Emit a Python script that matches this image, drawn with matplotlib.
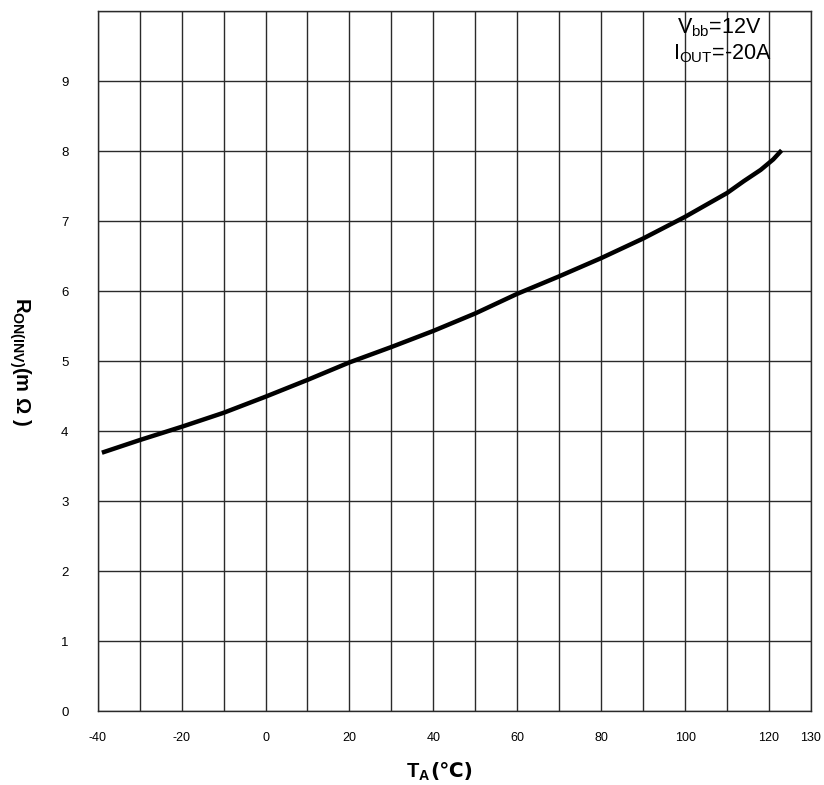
import matplotlib
matplotlib.use("Agg")
import matplotlib.pyplot as plt
import numpy as np

# ── Data ───────────────────────────────────────────────────
temps = [-39, -30, -20, -10, 0, 10, 20, 30, 40, 50, 60, 70, 80, 90, 100,
         110, 114, 118, 121, 123]
ron = [3.69, 3.87, 4.06, 4.26, 4.49, 4.73, 4.98, 5.20, 5.43, 5.68,
       5.96, 6.21, 6.47, 6.75, 7.06, 7.40, 7.57, 7.73, 7.88, 8.01]

x_ticks = list(range(-40, 131, 10))
x_labels = [str(t) if (t % 20 == 0 or t == 130) else "" for t in x_ticks]
y_ticks = list(range(0, 11))
y_labels = [str(v) if v < 10 else "" for v in y_ticks]

plt.rcParams["font.family"] = ["Liberation Sans", "DejaVu Sans"]
plt.rcParams["mathtext.fontset"] = "custom"
plt.rcParams["mathtext.rm"] = "Liberation Sans"
plt.rcParams["mathtext.it"] = "Liberation Sans:italic"
plt.rcParams["mathtext.bf"] = "Liberation Sans:bold"

W, H = 824, 785
fig = plt.figure(figsize=(W / 100, H / 100), dpi=100)
ax = fig.add_axes([97.7 / W, 1 - 711 / H, (811 - 97.7) / W, 700 / H])

grid_col = "#2a2a2a"
ax.set_xlim(-40, 130)
ax.set_ylim(0, 10)
ax.set_xticks(x_ticks)
ax.set_xticklabels(x_labels, fontsize=9)
ax.set_yticks(y_ticks)
ax.set_yticklabels(y_labels, fontsize=9.5)
ax.tick_params(length=0, pad=15)
ax.tick_params(axis="y", pad=21)
ax.grid(True, color=grid_col, lw=1.0)
for sp in ax.spines.values():
    sp.set_color(grid_col)
    sp.set_linewidth(1.0)

ax.plot(temps, ron, color="black", lw=3.2, solid_capstyle="butt",
        solid_joinstyle="round", zorder=3)

# ── Conditions note ────────────────────────────────────────
fig.text(677 / W, 1 - 28 / H, r"V$\mathregular{_{bb}}$=12V", fontsize=15.5,
         ha="left", va="center")
fig.text(673 / W, 1 - 54 / H, r"I$\mathregular{_{OUT}}$=-20A", fontsize=15.5,
         ha="left", va="center")

# ── Axis titles ────────────────────────────────────────────
fig.text(20 / W, 1 - 361 / H, r"R$\mathregular{_{ON(INV)}}$(m Ω )",
         fontsize=14.5, fontweight="bold", rotation=270, ha="center", va="center")
fig.text(430 / W, 1 - 772 / H, r"T$\mathbf{_A}$", fontsize=14.5,
         fontweight="bold", ha="right", va="center")
fig.text(430 / W, 1 - 772 / H, "(℃)", fontsize=14.5, fontweight="bold",
         family=["DejaVu Sans"], ha="left", va="center")

fig.savefig("out.png", dpi=100)
